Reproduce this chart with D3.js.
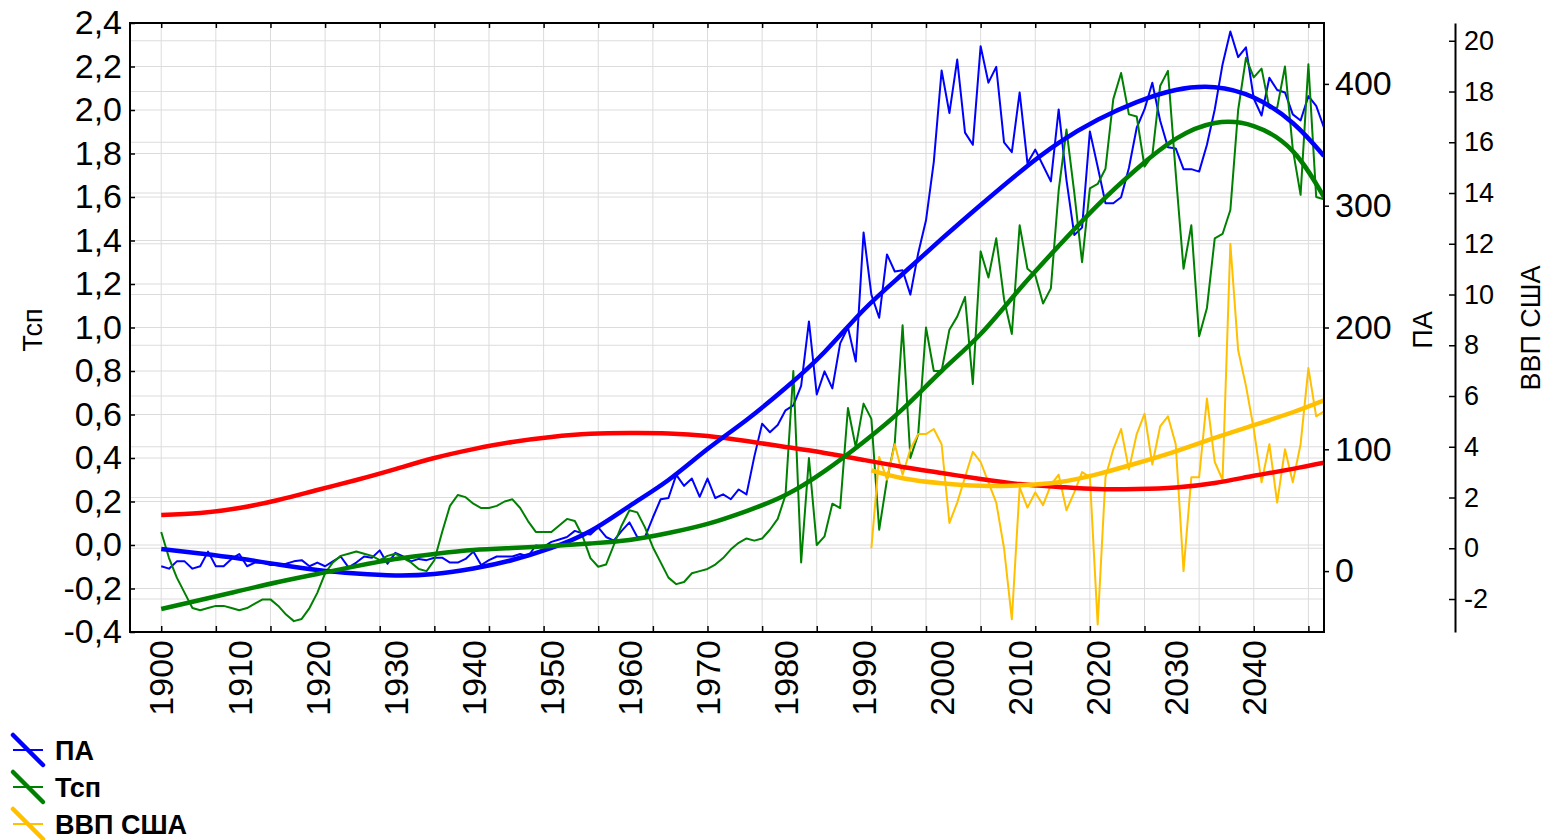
<!DOCTYPE html>
<html>
<head>
<meta charset="utf-8">
<script src="https://cdn.jsdelivr.net/npm/d3@7"></script>
<style>
  body { margin: 0; background: #fff; }
  svg { display: block; font-family: "Liberation Sans", Arial, sans-serif; }
</style>
</head>
<body>
<svg id="chart" width="1549" height="840"></svg>
<script>
// yearly series 1900..2049
const years = d3.range(1900, 2050);
const paValues = [
  4, 2, 8, 8, 2, 4, 16, 4, 4, 10,
  14, 4, 7, 7, 5, 5, 6, 8, 9, 4,
  7, 4, 8, 12, 3, 7, 12, 11, 17, 6,
  15, 12, 8, 10, 9, 11, 11, 7, 7, 10,
  16, 5, 9, 12, 12, 12, 14, 12, 21, 20,
  24, 26, 28, 33, 31, 30, 36, 28, 25, 33,
  40, 28, 28, 44, 59, 60, 79, 70, 76, 61,
  76, 60, 63, 59, 67, 63, 94, 121, 114, 120,
  132, 136, 152, 205, 145, 164, 150, 187, 200, 172,
  278, 227, 208, 260, 246, 247, 227, 261, 288, 336,
  411, 376, 420, 360, 350, 431, 401, 414, 352, 344,
  393, 335, 346, 333, 320, 379, 321, 276, 282, 361,
  332, 302, 302, 307, 331, 364, 379, 401, 370, 348,
  347, 330, 330, 328, 350, 379, 416, 443, 422, 430,
  388, 374, 405, 395, 393, 375, 370, 390, 382, 364
];
const tspValues = [
  0.06, -0.06, -0.15, -0.22, -0.29, -0.30, -0.29, -0.28, -0.28, -0.29,
  -0.30, -0.29, -0.27, -0.25, -0.25, -0.28, -0.32, -0.35, -0.34, -0.29,
  -0.22, -0.13, -0.08, -0.05, -0.04, -0.03, -0.04, -0.05, -0.07, -0.05,
  -0.04, -0.06, -0.08, -0.11, -0.12, -0.07, 0.06, 0.18, 0.23, 0.22,
  0.19, 0.17, 0.17, 0.18, 0.20, 0.21, 0.17, 0.11, 0.06, 0.06,
  0.06, 0.09, 0.12, 0.11, 0.04, -0.06, -0.10, -0.09, 0.00, 0.09,
  0.16, 0.15, 0.08, -0.01, -0.08, -0.15, -0.18, -0.17, -0.13, -0.12,
  -0.11, -0.09, -0.06, -0.02, 0.01, 0.03, 0.02, 0.03, 0.07, 0.12,
  0.23, 0.80, -0.08, 0.40, 0.00, 0.04, 0.19, 0.17, 0.63, 0.45,
  0.65, 0.58, 0.07, 0.30, 0.47, 1.01, 0.40, 0.51, 1.00, 0.80,
  0.80, 0.99, 1.05, 1.14, 0.74, 1.35, 1.23, 1.41, 1.13, 0.97,
  1.47, 1.27, 1.24, 1.11, 1.18, 1.63, 1.91, 1.62, 1.30, 1.64,
  1.66, 1.73, 2.05, 2.17, 1.98, 1.97, 1.74, 1.79, 2.11, 2.18,
  1.71, 1.27, 1.47, 0.96, 1.09, 1.41, 1.43, 1.54, 2.00, 2.24,
  2.15, 2.19, 2.01, 2.01, 2.20, 1.82, 1.61, 2.21, 1.60, 1.59
];
// GDP series 1991..2049
const gdpYears = d3.range(1991, 2050);
const gdpValues = [
  0.0, 3.6, 2.7, 4.1, 2.9, 3.9, 4.5, 4.5, 4.7, 4.1,
  1.0, 1.8, 2.8, 3.8, 3.4, 2.6, 1.8, 0.0, -2.8, 2.4,
  1.6, 2.2, 1.7, 2.5, 2.9, 1.5, 2.2, 3.0, 2.8, -3.0,
  2.8, 3.9, 4.7, 3.1, 4.5, 5.3, 3.3, 4.8, 5.2, 4.1,
  -0.9, 2.8, 2.8, 5.9, 3.4, 2.7, 12.0, 7.8, 6.4, 4.7,
  2.6, 4.1, 1.8, 3.9, 2.6, 4.1, 7.1, 5.2, 5.4
];

// smooth trend curves
const trendYears = [1900, 1905, 1910, 1915, 1920, 1925, 1930, 1935, 1940, 1945,
  1950, 1955, 1960, 1965, 1970, 1975, 1980, 1985, 1990, 1995,
  2000, 2005, 2010, 2015, 2020, 2025, 2030, 2035, 2040, 2045, 2049];
const paTrend = [18.1, 14.4, 10.3, 5.4, 0.9, -2.0, -3.6, -2.4, 2.1, 9.1,
  19.0, 32.9, 53.4, 74.8, 100.2, 124.1, 150.3, 179.9, 214.4, 243.9,
  272.7, 300.6, 327.5, 351.5, 370.5, 385.0, 395.0, 397.3, 388.8, 367.9, 340.8];
const tspTrend = [-0.294, -0.253, -0.211, -0.170, -0.133, -0.097, -0.064, -0.041, -0.023, -0.014,
  -0.005, 0.007, 0.023, 0.055, 0.097, 0.156, 0.230, 0.340, 0.474, 0.625,
  0.800, 0.970, 1.177, 1.375, 1.563, 1.729, 1.867, 1.940, 1.926, 1.811, 1.600];
const redTrend = [0.138, 0.147, 0.170, 0.207, 0.253, 0.299, 0.349, 0.400, 0.441, 0.474,
  0.497, 0.511, 0.515, 0.513, 0.501, 0.478, 0.451, 0.423, 0.391, 0.359,
  0.331, 0.303, 0.280, 0.267, 0.257, 0.257, 0.264, 0.285, 0.318, 0.350, 0.378];
const gdpTrendYears = [1991, 1995, 2000, 2005, 2010, 2015, 2020, 2025, 2030, 2035, 2040, 2045, 2049];
const gdpTrend = [3.07, 2.76, 2.56, 2.46, 2.48, 2.60, 2.92, 3.35, 3.82, 4.35, 4.85, 5.36, 5.83];

// ticks
const xTicks = d3.range(1900, 2049, 7);
const xLabels = d3.range(1900, 2041, 10);
const tspTicks = [-0.4, -0.2, 0, 0.2, 0.4, 0.6, 0.8, 1.0, 1.2, 1.4, 1.6, 1.8, 2.0, 2.2, 2.4];
const paTicks = [0, 100, 200, 300, 400];
const gdpTicks = [-2, 0, 2, 4, 6, 8, 10, 12, 14, 16, 18, 20];

const legendItems = [
  { label: 'ПА', color: '#0000ff' },
  { label: 'Тсп', color: '#008000' },
  { label: 'ВВП США', color: '#ffc000' }
];

const L = 130, R = 1324, T = 23, B = 632;
const gdpAxisX = 1455;

const svg = d3.select('#chart');

const x = d3.scaleLinear().domain([1896, 2049]).range([L, R]);
const yT = d3.scaleLinear().domain([-0.4, 2.4]).range([B, T]);
const yPA = d3.scaleLinear().domain([-50, 450]).range([B, T]);
const yGDP = d3.scaleLinear().domain([-3.3, 20.7]).range([B, T]);

svg.append('defs').append('clipPath').attr('id', 'plot-clip')
  .append('rect').attr('x', L).attr('y', T).attr('width', R - L).attr('height', B - T);

// Grid
const grid = svg.append('g').attr('stroke', '#dcdcdc').attr('stroke-width', 1);
grid.selectAll('line.v').data(xTicks).join('line').attr('class', 'v')
  .attr('x1', d => x(d)).attr('x2', d => x(d)).attr('y1', T).attr('y2', B);
grid.selectAll('line.h').data(tspTicks).join('line').attr('class', 'h')
  .attr('x1', L).attr('x2', R).attr('y1', d => yT(d)).attr('y2', d => yT(d));
grid.selectAll('line.g').data(gdpTicks).join('line').attr('class', 'g')
  .attr('x1', L).attr('x2', R).attr('y1', d => yGDP(d)).attr('y2', d => yGDP(d));

// Lines
const plot = svg.append('g').attr('clip-path', 'url(#plot-clip)').attr('fill', 'none')
  .attr('stroke-linejoin', 'round');

const lineOf = (xs, ys, yScale, curve) => d3.line()
  .x((d, i) => x(xs[i]))
  .y(d => yScale(d))
  .curve(curve || d3.curveLinear)(ys);

plot.append('path').attr('d', lineOf(years, paValues, yPA))
  .attr('stroke', '#0000ff').attr('stroke-width', 2);
plot.append('path').attr('d', lineOf(years, tspValues, yT))
  .attr('stroke', '#008000').attr('stroke-width', 2);
plot.append('path').attr('d', lineOf(gdpYears, gdpValues, yGDP))
  .attr('stroke', '#ffc000').attr('stroke-width', 2);

// thick trends
plot.append('path').attr('d', lineOf(trendYears, redTrend, yT, d3.curveNatural))
  .attr('stroke', '#ff0000').attr('stroke-width', 4.5);
plot.append('path').attr('d', lineOf(trendYears, paTrend, yPA, d3.curveNatural))
  .attr('stroke', '#0000ff').attr('stroke-width', 4.5);
plot.append('path').attr('d', lineOf(trendYears, tspTrend, yT, d3.curveNatural))
  .attr('stroke', '#008000').attr('stroke-width', 4.5);
plot.append('path').attr('d', lineOf(gdpTrendYears, gdpTrend, yGDP, d3.curveNatural))
  .attr('stroke', '#ffc000').attr('stroke-width', 4.5);

// Frame
svg.append('rect').attr('x', L).attr('y', T).attr('width', R - L).attr('height', B - T)
  .attr('fill', 'none').attr('stroke', '#000').attr('stroke-width', 2);

const styleAxis = (g, size) => {
  g.attr('font-family', '"Liberation Sans", Arial, sans-serif').attr('font-size', size);
  g.selectAll('.tick line').attr('stroke', '#000').attr('stroke-width', 1.5);
  g.selectAll('.tick text').attr('fill', '#000');
};

// Left axis
svg.append('g').attr('transform', `translate(${L},0)`)
  .call(d3.axisLeft(yT).tickValues(tspTicks).tickSizeInner(-5).tickSizeOuter(0).tickPadding(8)
    .tickFormat(d => d.toFixed(1).replace('.', ',')))
  .call(g => g.select('.domain').remove())
  .call(g => styleAxis(g, 34));

// Top and bottom ticks
svg.append('g').attr('transform', `translate(0,${T})`)
  .call(d3.axisTop(x).tickValues(xTicks).tickSizeInner(-5).tickSizeOuter(0).tickFormat(''))
  .call(g => g.select('.domain').remove())
  .call(g => styleAxis(g, 10));
svg.append('g').attr('transform', `translate(0,${B})`)
  .call(d3.axisBottom(x).tickValues(xTicks).tickSizeInner(-6).tickSizeOuter(0).tickFormat(''))
  .call(g => g.select('.domain').remove())
  .call(g => styleAxis(g, 10));

// Year labels
svg.append('g').attr('font-size', 34).attr('fill', '#000')
  .selectAll('text').data(xLabels).join('text')
  .attr('transform', d => `translate(${x(d)},640) rotate(-90)`)
  .attr('text-anchor', 'end')
  .attr('dy', '0.36em')
  .text(d => d);

// PA axis
svg.append('g').attr('transform', `translate(${R},0)`)
  .call(d3.axisRight(yPA).tickValues(paTicks).tickSizeInner(5).tickSizeOuter(0).tickPadding(6))
  .call(g => g.select('.domain').remove())
  .call(g => styleAxis(g, 34));

// GDP axis
svg.append('g').attr('transform', `translate(${gdpAxisX},0)`)
  .call(d3.axisRight(yGDP).tickValues(gdpTicks).tickSizeInner(-6).tickSizeOuter(0).tickPadding(9)
    .tickFormat(d => String(d)))
  .call(g => g.select('.domain').attr('stroke', '#000').attr('stroke-width', 2))
  .call(g => styleAxis(g, 27));

// Axis titles
const titles = [
  { text: 'Тсп', x: 42, y: 330 },
  { text: 'ПА', x: 1432, y: 330 },
  { text: 'ВВП США', x: 1540, y: 328 }
];
svg.append('g').attr('font-size', 27).attr('fill', '#000')
  .selectAll('text').data(titles).join('text')
  .attr('transform', d => `translate(${d.x},${d.y}) rotate(-90)`)
  .attr('text-anchor', 'middle')
  .text(d => d.text);

// Legend
const legend = svg.append('g');
legendItems.forEach((item, i) => {
  const ly = 750 + i * 37;
  legend.append('line').attr('x1', 13).attr('x2', 43).attr('y1', ly).attr('y2', ly)
    .attr('stroke', item.color).attr('stroke-width', 2);
  legend.append('line').attr('x1', 13).attr('x2', 43).attr('y1', ly - 15).attr('y2', ly + 15)
    .attr('stroke', item.color).attr('stroke-width', 4.5).attr('stroke-linecap', 'round');
  legend.append('text').attr('x', 55).attr('y', ly + 10)
    .attr('font-size', 27).attr('font-weight', 'bold').attr('fill', '#000')
    .text(item.label);
});
</script>
</body>
</html>
